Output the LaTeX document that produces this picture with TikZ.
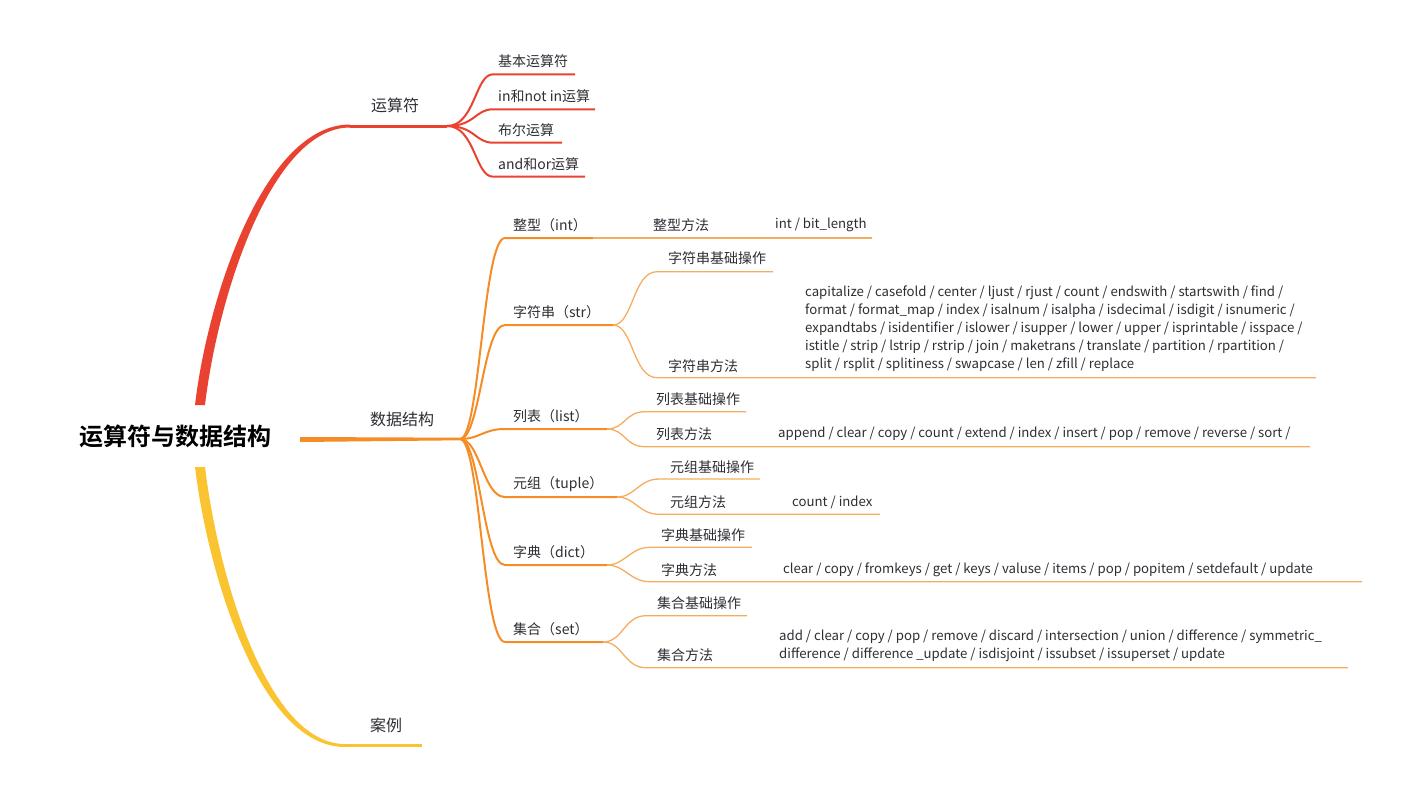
\documentclass[tikz,border=0pt]{standalone}
\usepackage{fontspec}
\setmainfont{Noto Sans CJK SC}[BoldFont={Noto Sans CJK SC Bold}]
\usepackage{tikz}
\usetikzlibrary{calc}
\definecolor{opred}{RGB}{234,66,48}
\definecolor{dsorange}{RGB}{245,140,38}
\definecolor{leaforange}{RGB}{246,172,96}
\definecolor{caseyellow}{RGB}{250,196,48}
\definecolor{txt}{RGB}{45,45,52}

\begin{document}
\begin{tikzpicture}[x=1pt,y=-1pt,
    title/.style={font=\fontsize{24}{28}\selectfont\bfseries,text=black,inner sep=0pt},
    main/.style={font=\fontsize{16}{20}\selectfont,text=txt,inner sep=0pt,anchor=west},
    sub/.style={font=\fontsize{14}{18}\selectfont,text=txt,inner sep=0pt,anchor=west},
    leaf/.style={font=\fontsize{13.2}{18}\selectfont,text=txt,inner sep=0pt,anchor=west,align=left},
    redln/.style={draw=opred,line width=2pt},
    orln/.style={draw=dsorange,line width=2pt},
    thinln/.style={draw=leaforange,line width=1.3pt}]
  \useasboundingbox (0,0) rectangle (1412,797);

  \node[title] (root) at (175,436) {运算符与数据结构};
  \coordinate (rtop) at (200,405);
  \coordinate (rright) at (300,439.5);
  \coordinate (rbot) at (200,467);

  % first level
  \coordinate (ops-a) at (350,126);
  \coordinate (ops-b) at (447,126);
  \node[main] (ops) at (371,105) {运算符};
  \fill[opred] ($(rtop)+(-5,0)$) .. controls ($(rtop)+(8,-110)$) and ($(ops-a)+(-85,-1.5)$) .. ($(ops-a)+(0,-1.5)$)
    -- ($(ops-a)+(0,1.5)$) .. controls ($(ops-a)+(-78,1.5)$) and ($(rtop)+(18,-110)$) .. ($(rtop)+(5,0)$) -- cycle;
  \draw[opred,line width=3pt] (ops-a) -- (ops-b);

  \coordinate (ds-b) at (460,439);
  \node[main] (ds) at (370,419) {数据结构};
  \fill[dsorange] ($(rright)+(0,-2.5)$) -- ($(ds-b)+(0,-1.3)$) -- ($(ds-b)+(0,1.3)$) -- ($(rright)+(0,2.5)$) -- cycle;

  \coordinate (case-a) at (345,745.5);
  \coordinate (case-b) at (422,745.5);
  \node[main] (case) at (370,725) {案例};
  \fill[caseyellow] ($(rbot)+(-5,0)$) .. controls ($(rbot)+(8,108)$) and ($(case-a)+(-85,1.5)$) .. ($(case-a)+(0,1.5)$)
    -- ($(case-a)+(0,-1.5)$) .. controls ($(case-a)+(-78,-1.5)$) and ($(rbot)+(18,108)$) .. ($(rbot)+(5,0)$) -- cycle;
  \draw[caseyellow,line width=3pt] (case-a) -- (case-b);

  % operators
  \foreach \n/\y/\e/\t in {op1/74.3/575/基本运算符, op2/109.3/595/in和not in运算,
      op3/142.7/562/布尔运算, op4/176.7/585/and和or运算} {
    \coordinate (\n-a) at (493,\y);
    \coordinate (\n-b) at (\e,\y);
    \node[sub] (\n) at (498,\y-13) {\t};
    \draw[redln] (ops-b) .. controls +(28,0) and +(-18,0) .. (\n-a) -- (\n-b);
  }

  % data structures
  \foreach \n/\y/\e/\t in {int/238/593/整型（int）, str/325/613/字符串（str）, list/429/607/列表（list）,
      tup/497/617/元组（tuple）, dict/565/607/字典（dict）, set/642/603/集合（set）} {
    \coordinate (\n-a) at (505,\y);
    \coordinate (\n-b) at (\e,\y);
    \node[sub] (\n) at (513,\y-13) {\t};
    \draw[orln] (ds-b) .. controls +(20,0) and +(-22,0) .. (\n-a) -- (\n-b);
  }

  % int
  \coordinate (intm-b) at (765,238);
  \coordinate (intv-b) at (872,238);
  \node[sub] (intm) at (653,225) {整型方法};
  \node[leaf] (intv) at (775,225) {int / bit\_length};
  \draw[thinln] (int-b) -- (intm-b) -- (intv-b);

  % str
  \coordinate (strb-a) at (657,271.7);
  \coordinate (strb-b) at (773,271.7);
  \coordinate (strm-a) at (657,377.7);
  \coordinate (strm-b) at (795,377.7);
  \coordinate (strv-b) at (1316,377.7);
  \node[sub] (strb) at (668,258) {字符串基础操作};
  \node[sub] (strm) at (668,366) {字符串方法};
  \node[leaf] (strv) at (805,329) {capitalize / casefold / center / ljust / rjust / count / endswith / startswith / find /\\
    format / format\_map / index / isalnum / isalpha / isdecimal / isdigit / isnumeric /\\
    expandtabs / isidentifier / islower / isupper / lower / upper / isprintable / isspace /\\
    istitle / strip / lstrip / rstrip / join / maketrans / translate / partition / rpartition /\\
    split / rsplit / splitiness / swapcase / len / zfill / replace};
  \draw[thinln] (str-b) .. controls +(20,0) and +(-24,0) .. (strb-a) -- (strb-b);
  \draw[thinln] (str-b) .. controls +(20,0) and +(-24,0) .. (strm-a) -- (strm-b) -- (strv-b);

  % list
  \coordinate (listb-a) at (645,411.7);
  \coordinate (listb-b) at (746,411.7);
  \coordinate (listm-a) at (645,446.7);
  \coordinate (listm-b) at (768,446.7);
  \coordinate (listv-b) at (1310,446.7);
  \node[sub] (listb) at (656,399) {列表基础操作};
  \node[sub] (listm) at (656,434) {列表方法};
  \node[leaf] (listv) at (778,434) {append / clear / copy / count / extend / index / insert / pop / remove / reverse / sort /};
  \draw[thinln] (list-b) .. controls +(18,0) and +(-20,0) .. (listb-a) -- (listb-b);
  \draw[thinln] (list-b) .. controls +(18,0) and +(-20,0) .. (listm-a) -- (listm-b) -- (listv-b);

  % tuple
  \coordinate (tupb-a) at (659,479);
  \coordinate (tupb-b) at (760,479);
  \coordinate (tupm-a) at (659,514.3);
  \coordinate (tupm-b) at (782,514.3);
  \coordinate (tupv-b) at (880,514.3);
  \node[sub] (tupb) at (670,466.7) {元组基础操作};
  \node[sub] (tupm) at (670,502) {元组方法};
  \node[leaf] (tupv) at (792,502) {count / index};
  \draw[thinln] (tup-b) .. controls +(18,0) and +(-20,0) .. (tupb-a) -- (tupb-b);
  \draw[thinln] (tup-b) .. controls +(18,0) and +(-20,0) .. (tupm-a) -- (tupm-b) -- (tupv-b);

  % dict
  \coordinate (dictb-a) at (650,547.3);
  \coordinate (dictb-b) at (752,547.3);
  \coordinate (dictm-a) at (650,581.7);
  \coordinate (dictm-b) at (773,581.7);
  \coordinate (dictv-b) at (1362,581.7);
  \node[sub] (dictb) at (661,535) {字典基础操作};
  \node[sub] (dictm) at (661,570) {字典方法};
  \node[leaf] (dictv) at (783,570) {clear / copy / fromkeys / get / keys / valuse / items / pop / popitem / setdefault / update};
  \draw[thinln] (dict-b) .. controls +(18,0) and +(-20,0) .. (dictb-a) -- (dictb-b);
  \draw[thinln] (dict-b) .. controls +(18,0) and +(-20,0) .. (dictm-a) -- (dictm-b) -- (dictv-b);

  % set
  \coordinate (setb-a) at (646,615.7);
  \coordinate (setb-b) at (747,615.7);
  \coordinate (setm-a) at (646,667.7);
  \coordinate (setm-b) at (769,667.7);
  \coordinate (setv-b) at (1348,667.7);
  \node[sub] (setb) at (657,602.7) {集合基础操作};
  \node[sub] (setm) at (657,655) {集合方法};
  \node[leaf] (setv) at (779,646) {add / clear / copy / pop / remove / discard / intersection / union / difference / symmetric\_\\
    difference / difference \_update / isdisjoint / issubset / issuperset / update};
  \draw[thinln] (set-b) .. controls +(20,0) and +(-22,0) .. (setb-a) -- (setb-b);
  \draw[thinln] (set-b) .. controls +(20,0) and +(-22,0) .. (setm-a) -- (setm-b) -- (setv-b);
\end{tikzpicture}
\end{document}
